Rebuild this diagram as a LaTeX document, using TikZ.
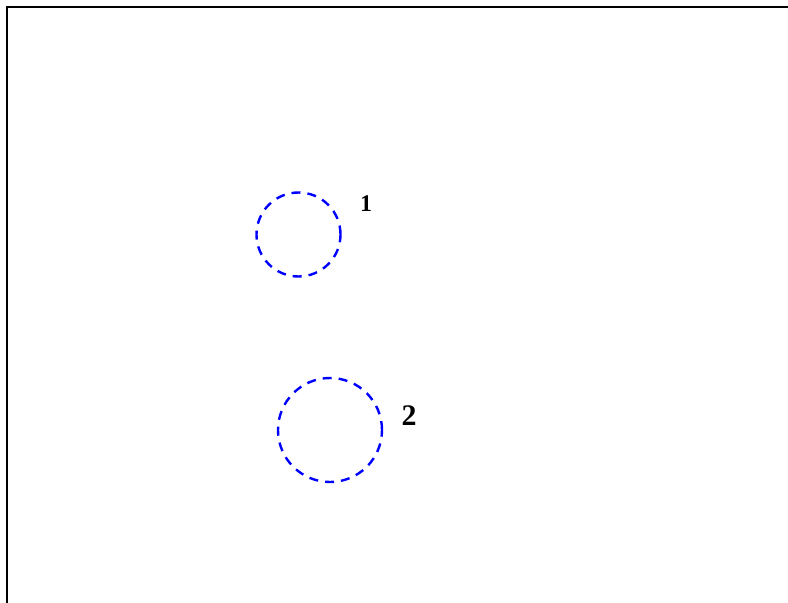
\documentclass[tikz,border=0pt]{standalone}
\usepackage{fontspec}
\setmainfont{Liberation Serif}
\begin{document}
\begin{tikzpicture}[x=1bp,y=-1bp,
  ring/.style={circle, draw=blue, line width=2.4bp, dash pattern=on 9bp off 7bp, inner sep=0pt, outer sep=0pt},
  lab/.style={inner sep=0pt, font=\bfseries}]
\useasboundingbox (0,0) rectangle (788,603);
\fill[white] (0,0) rectangle (788,603);
\coordinate (fbl) at (7,603);
\coordinate (ftl) at (7,7);
\coordinate (ftr) at (788,7);
\draw[line width=2bp] (fbl) -- (ftl) -- (ftr);
\node[ring, minimum size=84bp] (c1) at (298.5,234.5) {};
\node[ring, minimum size=104bp] (c2) at (330,430) {};
\node[lab, font=\bfseries\fontsize{24}{24}\selectfont] (l1) at (366,204) {1};
\node[lab, font=\bfseries\fontsize{30}{30}\selectfont] (l2) at (409,415.5) {2};
\end{tikzpicture}
\end{document}
